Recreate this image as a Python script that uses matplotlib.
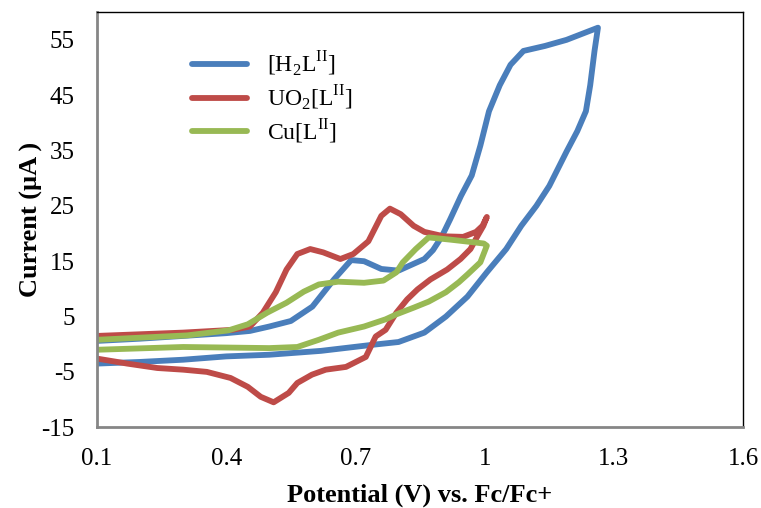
import matplotlib
matplotlib.use('agg')
import matplotlib.pyplot as plt

plt.rcParams['font.family'] = ['Liberation Serif', 'DejaVu Serif']
plt.rcParams['mathtext.fontset'] = 'custom'
plt.rcParams['mathtext.rm'] = 'Liberation Serif'
plt.rcParams['axes.unicode_minus'] = False

# [H2L^II] : forward sweep then return sweep
h2l_v = [0.10, 0.20, 0.32, 0.40, 0.455, 0.50, 0.55, 0.60, 0.65, 0.69, 0.72, 0.76,
         0.80, 0.86, 0.88, 0.90, 0.92, 0.945, 0.97, 0.99, 1.01, 1.035, 1.06, 1.09, 1.14, 1.19, 1.263,
         1.255, 1.245, 1.235, 1.215, 1.19, 1.17, 1.15, 1.12, 1.085, 1.05, 1.005, 0.96, 0.91, 0.86,
         0.80, 0.74, 0.62, 0.50, 0.40, 0.30, 0.20, 0.10]
h2l_i = [0.6, 1.0, 1.6, 2.0, 2.4, 3.2, 4.2, 6.8, 11.7, 15.2, 15.0, 13.6,
         13.3, 15.4, 17.0, 19.4, 22.6, 26.8, 30.5, 35.9, 42.1, 46.8, 50.5, 53.0, 53.9, 55.0, 57.2,
         53.0, 46.8, 42.1, 38.5, 34.8, 31.7, 28.6, 25.0, 21.4, 17.2, 13.0, 8.6, 5.0, 2.1,
         0.4, -0.1, -1.2, -1.9, -2.2, -2.8, -3.2, -3.5]

# UO2[L^II]
uo2_v = [0.10, 0.30, 0.415, 0.455, 0.485, 0.515, 0.54, 0.565, 0.595, 0.625, 0.665, 0.695,
         0.73, 0.76, 0.78, 0.805, 0.835, 0.86, 0.905, 0.95, 0.98, 0.995, 1.005,
         0.997, 0.983, 0.967, 0.944, 0.913, 0.874, 0.844, 0.82, 0.795, 0.77, 0.747,
         0.724, 0.678, 0.631, 0.599, 0.565, 0.545, 0.51, 0.48, 0.45, 0.41, 0.355, 0.30, 0.24, 0.17, 0.10]
uo2_i = [1.5, 2.1, 2.6, 3.2, 5.7, 9.4, 13.5, 16.3, 17.2, 16.6, 15.4, 16.3,
         18.6, 23.2, 24.5, 23.5, 21.4, 20.3, 19.5, 19.4, 20.3, 21.4, 23.0,
         21.4, 19.5, 17.2, 15.4, 13.5, 11.7, 9.9, 8.1, 5.7, 2.6, 1.4,
         -2.3, -4.1, -4.6, -5.5, -7.0, -8.8, -10.5, -9.5, -7.7, -6.1, -5.0, -4.6, -4.3, -3.5, -2.6]

# Cu[L^II]
cu_v = [0.10, 0.31, 0.405, 0.45, 0.495, 0.54, 0.58, 0.615, 0.66, 0.72, 0.765, 0.795,
        0.81, 0.84, 0.87, 0.92, 0.965, 0.998, 1.005,
        1.0, 0.99, 0.96, 0.94, 0.91, 0.87, 0.835, 0.795, 0.77, 0.72, 0.66,
        0.615, 0.565, 0.50, 0.40, 0.30, 0.10]
cu_i = [0.8, 1.6, 2.5, 3.6, 5.7, 7.5, 9.5, 10.8, 11.3, 11.1, 11.5, 13.0,
        14.8, 17.2, 19.3, 18.9, 18.5, 18.2, 17.8,
        16.8, 14.8, 12.6, 11.2, 9.4, 7.7, 6.6, 5.4, 4.5, 3.2, 2.1,
        0.8, -0.5, -0.7, -0.6, -0.5, -1.0]

fig = plt.figure(figsize=(7.61, 5.08), dpi=100)
ax = fig.add_axes([0.1275, 0.159, 0.849, 0.817])

ax.plot(h2l_v, h2l_i, color='#4a7ebb', lw=4.2, solid_capstyle='round', solid_joinstyle='round',
        label=r'[H$_2$L$^{\mathrm{II}}$]')
ax.plot(uo2_v, uo2_i, color='#be4b48', lw=4.2, solid_capstyle='round', solid_joinstyle='round',
        label=r'UO$_2$[L$^{\mathrm{II}}$]')
ax.plot(cu_v, cu_i, color='#98b954', lw=4.2, solid_capstyle='round', solid_joinstyle='round',
        label=r'Cu[L$^{\mathrm{II}}$]')

ax.set_xlim(0.1, 1.6)
ax.set_ylim(-15, 60)
ax.set_xticks([0.1, 0.4, 0.7, 1.0, 1.3, 1.6])
ax.set_xticklabels(['0.1', '0.4', '0.7', '1', '1.3', '1.6'])
ax.set_yticks([-15, -5, 5, 15, 25, 35, 45, 55])
ax.tick_params(axis='y', length=0, labelsize=18, pad=16)
ax.tick_params(axis='x', length=0, labelsize=18, pad=15)

for s in ['left', 'bottom']:
    ax.spines[s].set_color('#868686')
    ax.spines[s].set_linewidth(2)
for s in ['top', 'right']:
    ax.spines[s].set_color('black')
    ax.spines[s].set_linewidth(1)

ax.set_xlabel('Potential (V) vs. Fc/Fc+', fontsize=19, fontweight='bold', labelpad=10)
ax.set_ylabel('Current (µA )', fontsize=19, fontweight='bold', labelpad=-1)

ax.legend(loc='upper left', bbox_to_anchor=(0.132, 0.932), frameon=False, fontsize=17,
          handlelength=2.35, handletextpad=0.85, labelspacing=0.18, borderaxespad=0)

fig.savefig('out.png', dpi=100)
